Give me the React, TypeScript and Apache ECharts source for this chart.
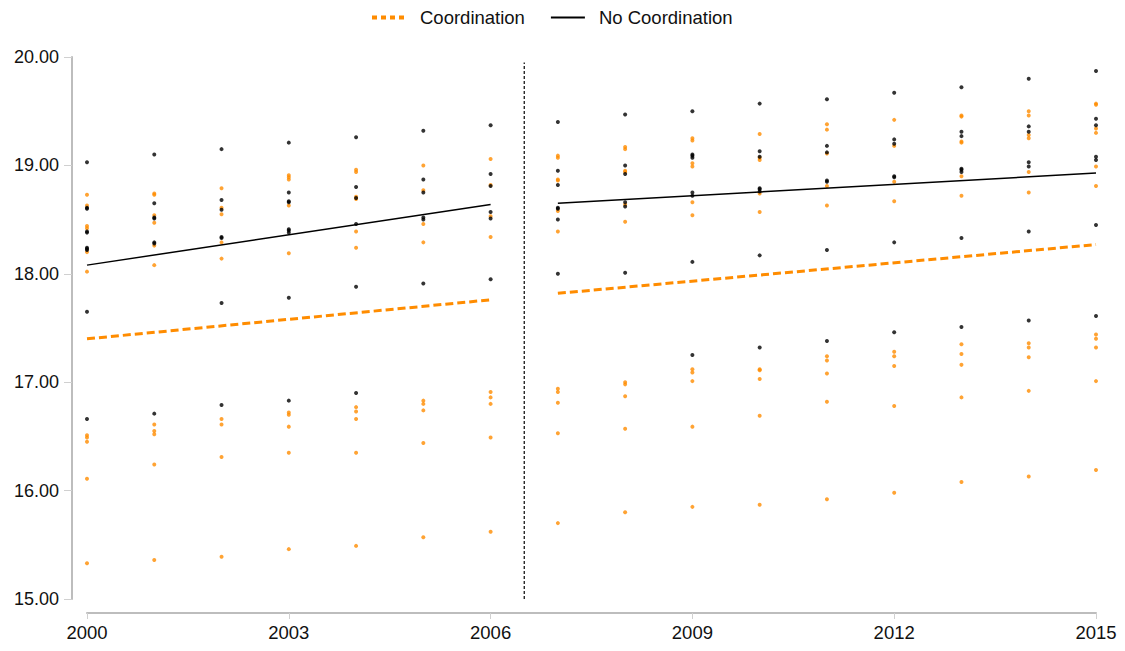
import React, { useEffect, useRef } from "react";
import * as echarts from "echarts";

const years = [2000, 2001, 2002, 2003, 2004, 2005, 2006, 2007, 2008, 2009, 2010, 2011, 2012, 2013, 2014, 2015];

const coordPoints: number[][] = [
  [18.73, 18.63, 18.44, 18.42, 18.2, 18.02, 16.51, 16.49, 16.45, 16.11, 15.33],
  [18.74, 18.73, 18.54, 18.47, 18.26, 18.08, 16.61, 16.55, 16.52, 16.24, 15.36],
  [18.79, 18.61, 18.55, 18.29, 18.14, 16.66, 16.61, 16.31, 15.39],
  [18.91, 18.89, 18.87, 18.63, 18.19, 16.72, 16.7, 16.59, 16.35, 15.46],
  [18.96, 18.94, 18.71, 18.69, 18.39, 18.24, 16.77, 16.73, 16.66, 16.35, 15.49],
  [19.0, 18.77, 18.46, 18.29, 16.83, 16.8, 16.74, 16.44, 15.57],
  [19.06, 18.82, 18.53, 18.34, 16.91, 16.86, 16.8, 16.49, 15.62],
  [19.09, 19.07, 18.87, 18.86, 18.58, 18.39, 16.94, 16.91, 16.81, 16.53, 15.7],
  [19.17, 19.15, 18.95, 18.94, 18.64, 18.48, 17.0, 16.98, 16.87, 16.57, 15.8],
  [19.25, 19.23, 19.02, 18.99, 18.66, 18.54, 17.12, 17.09, 17.01, 16.59, 15.85],
  [19.29, 19.07, 19.05, 18.74, 18.57, 17.12, 17.11, 17.03, 16.69, 15.87],
  [19.38, 19.33, 19.11, 18.81, 18.63, 17.24, 17.2, 17.08, 16.82, 15.92],
  [19.42, 19.18, 18.85, 18.67, 17.28, 17.24, 17.15, 16.78, 15.98],
  [19.46, 19.45, 19.22, 19.21, 18.9, 18.72, 17.35, 17.26, 17.16, 16.86, 16.08],
  [19.5, 19.46, 19.28, 19.25, 18.94, 18.75, 17.36, 17.32, 17.23, 16.92, 16.13],
  [19.57, 19.56, 19.34, 19.3, 18.99, 18.81, 17.44, 17.4, 17.32, 17.01, 16.19],
];

const noCoordPoints: number[][] = [
  [19.03, 18.61, 18.6, 18.39, 18.38, 18.24, 18.23, 18.22, 17.65, 16.66],
  [19.1, 18.65, 18.52, 18.51, 18.29, 18.28, 16.71],
  [19.15, 18.68, 18.59, 18.34, 18.33, 17.73, 16.79],
  [19.21, 18.75, 18.67, 18.66, 18.41, 18.4, 18.38, 17.78, 16.83],
  [19.26, 18.8, 18.7, 18.46, 17.88, 16.9],
  [19.32, 18.87, 18.75, 18.52, 18.5, 17.91],
  [19.37, 18.92, 18.81, 18.57, 18.51, 17.95],
  [19.4, 18.95, 18.82, 18.61, 18.6, 18.5, 18.0],
  [19.47, 19.0, 18.92, 18.66, 18.62, 18.01],
  [19.5, 19.1, 19.09, 19.07, 18.75, 18.72, 18.11, 17.25],
  [19.57, 19.13, 19.08, 18.79, 18.78, 18.76, 18.17, 17.32],
  [19.61, 19.18, 19.12, 18.86, 18.85, 18.22, 17.38],
  [19.67, 19.24, 19.2, 18.9, 18.89, 18.29, 17.46],
  [19.72, 19.31, 19.27, 18.97, 18.96, 18.94, 18.33, 17.51],
  [19.8, 19.36, 19.31, 19.03, 18.99, 18.39, 17.57],
  [19.87, 19.43, 19.37, 19.08, 19.05, 18.45, 17.61],
];

const coordFitBefore: number[][] = [[2000, 17.4], [2006, 17.76]];
const coordFitAfter: number[][] = [[2007, 17.82], [2015, 18.27]];
const noCoordFitBefore: number[][] = [[2000, 18.08], [2006, 18.64]];
const noCoordFitAfter: number[][] = [[2007, 18.65], [2015, 18.93]];
const dividerLine: number[][] = [[2006.5, 15], [2006.5, 19.95]];

const ORANGE = "#ff8c00";
const BLACK = "#000000";
const AXIS_GRAY = "#bdbdbd";
const FONT = "'Liberation Sans', Arial, Helvetica, sans-serif";

function flatten(pts: number[][]): number[][] {
  const out: number[][] = [];
  pts.forEach((vals, i) => vals.forEach((v) => out.push([years[i], v])));
  return out;
}

export default function App() {
  const ref = useRef<HTMLDivElement>(null);

  useEffect(() => {
    if (!ref.current) return;
    const chart = echarts.init(ref.current, null, { renderer: "svg" });
    const option: any = {
      animation: false,
      backgroundColor: "#ffffff",
      textStyle: { fontFamily: FONT },
      legend: {
        data: [
          { name: "Coordination", lineStyle: { color: ORANGE, width: 4, type: [5, 4] } },
          { name: "No Coordination", lineStyle: { color: BLACK, width: 2 } },
        ],
        top: 3,
        left: 365,
        itemWidth: 34,
        itemHeight: 14,
        itemGap: 25,
        itemStyle: { opacity: 0 },
        textStyle: { fontSize: 18.5, color: "#111", fontFamily: FONT, padding: [0, 0, 0, 9] },
      },
      grid: { left: 87, right: 29, top: 57, bottom: 52, containLabel: false },
      xAxis: {
        type: "value",
        min: 2000,
        max: 2015,
        interval: 3,
        offset: 14,
        axisLine: { show: true, lineStyle: { color: AXIS_GRAY, width: 2 } },
        axisTick: { show: true, length: 6, lineStyle: { color: "#d0d0d0", width: 1 } },
        axisLabel: { fontSize: 18.5, color: "#111", margin: 10, fontFamily: FONT, formatter: (v: number) => String(v) },
        splitLine: { show: false },
      },
      yAxis: {
        type: "value",
        min: 15,
        max: 20,
        interval: 1,
        offset: 15,
        axisLine: { show: true, lineStyle: { color: AXIS_GRAY, width: 2 } },
        axisTick: { show: true, length: 8, lineStyle: { color: "#d0d0d0", width: 1 } },
        axisLabel: { fontSize: 18, color: "#111", margin: 13, fontFamily: FONT, formatter: (v: number) => v.toFixed(2) },
        splitLine: { show: false },
      },
      series: [
        {
          name: "Coordination points",
          type: "scatter",
          data: flatten(coordPoints),
          symbol: "circle",
          symbolSize: 4,
          itemStyle: { color: ORANGE },
          z: 2,
        },
        {
          name: "No Coordination points",
          type: "scatter",
          data: flatten(noCoordPoints),
          symbol: "circle",
          symbolSize: 4,
          itemStyle: { color: BLACK },
          z: 2,
        },
        {
          name: "Coordination",
          type: "line",
          data: coordFitBefore,
          symbol: "none",
          itemStyle: { color: ORANGE },
          lineStyle: { color: ORANGE, width: 3, type: [8, 4] },
          z: 3,
        },
        {
          name: "Coordination",
          type: "line",
          data: coordFitAfter,
          symbol: "none",
          itemStyle: { color: ORANGE },
          lineStyle: { color: ORANGE, width: 3, type: [8, 4] },
          z: 3,
        },
        {
          name: "No Coordination",
          type: "line",
          data: noCoordFitBefore,
          symbol: "none",
          itemStyle: { color: BLACK },
          lineStyle: { color: BLACK, width: 1.5 },
          z: 3,
        },
        {
          name: "No Coordination",
          type: "line",
          data: noCoordFitAfter,
          symbol: "none",
          itemStyle: { color: BLACK },
          lineStyle: { color: BLACK, width: 1.5 },
          z: 3,
        },
        {
          name: "divider",
          type: "line",
          data: dividerLine,
          symbol: "none",
          lineStyle: { color: BLACK, width: 1.2, type: [3, 2] },
          z: 1,
        },
      ],
    };
    chart.setOption(option);
    return () => chart.dispose();
  }, []);

  return (
    <div
      ref={ref}
      style={{ position: "fixed", left: 0, top: 0, width: 1125, height: 651, background: "#fff" }}
    />
  );
}
